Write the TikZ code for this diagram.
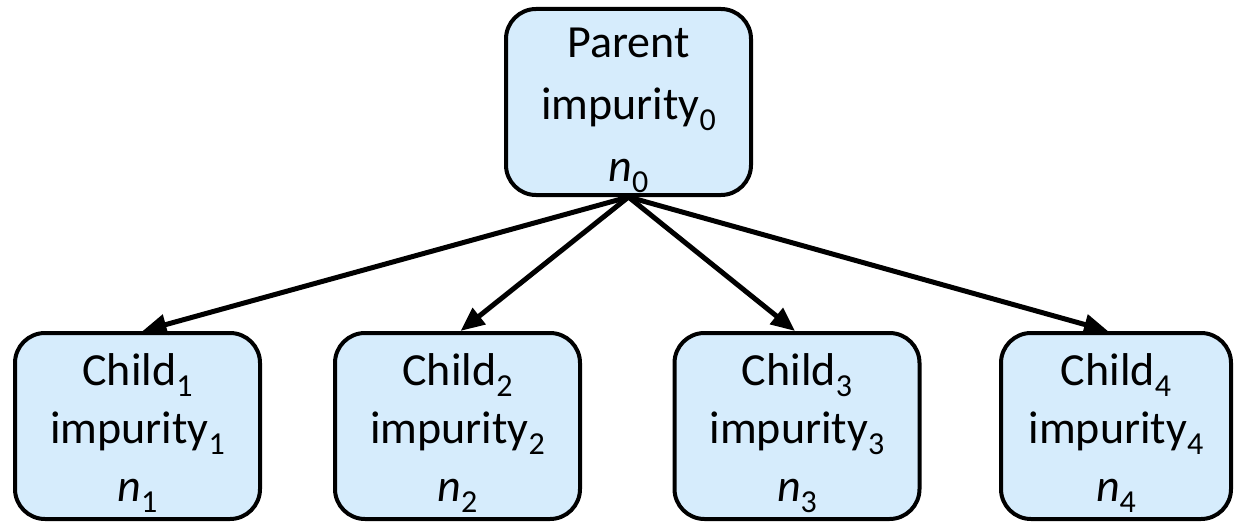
\documentclass[tikz,border=0pt]{standalone}
\usepackage{fontspec}
\setmainfont{Carlito}
\usetikzlibrary{arrows.meta}
\definecolor{boxfill}{RGB}{214,236,252}
% lowered, smaller index digits
\newcommand\idx[1]{\raisebox{-11pt}{\fontsize{32pt}{32pt}\selectfont #1}}
% extra height on the first line pushes the text block down a little
\newcommand\toplift{\rule{0pt}{46pt}}
\tikzset{
  treebox/.style={draw=black, line width=4pt, fill=boxfill, rounded corners=30pt,
    minimum height=186pt, inner sep=0pt, align=center},
  parentbox/.style={treebox, font=\fontsize{46pt}{62pt}\selectfont},
  childbox/.style={treebox, font=\fontsize{46pt}{58pt}\selectfont},
  link/.style={line width=5pt, -{Triangle[length=24pt,width=20pt]}}
}
\begin{document}
\begin{tikzpicture}[x=1pt,y=-1pt]
  \useasboundingbox (0,0) rectangle (1236,524);
  \node[parentbox, minimum width=245pt] (p) at (628.5,102)
    {\toplift Parent\\impurity\idx{0}\\\textit{n}\idx{0}};
  \node[childbox, minimum width=245pt] (c1) at (137.5,426)
    {\toplift Child\idx{1}\\impurity\idx{1}\\\textit{n}\idx{1}};
  \node[childbox, minimum width=245pt] (c2) at (457.5,426)
    {\toplift Child\idx{2}\\impurity\idx{2}\\\textit{n}\idx{2}};
  \node[childbox, minimum width=245pt] (c3) at (797,426)
    {\toplift Child\idx{3}\\impurity\idx{3}\\\textit{n}\idx{3}};
  \node[childbox, minimum width=230pt] (c4) at (1116,426)
    {\toplift Child\idx{4}\\impurity\idx{4}\\\textit{n}\idx{4}};
  \draw[link] (p.south) -- ([xshift=5pt]c1.north);
  \draw[link] (p.south) -- ([xshift=3pt]c2.north);
  \draw[link] (p.south) -- ([xshift=-2pt]c3.north);
  \draw[link] (p.south) -- ([xshift=-8pt]c4.north);
\end{tikzpicture}
\end{document}
